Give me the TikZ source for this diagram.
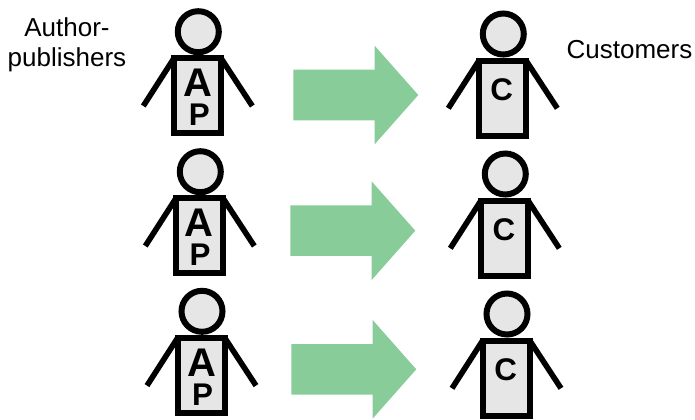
\documentclass[tikz,border=0pt]{standalone}
\usepackage{fontspec}
\setmainfont{Liberation Sans}
\usetikzlibrary{shapes.arrows}
\definecolor{FlowGreen}{HTML}{88CC99}
\definecolor{BodyGray}{HTML}{E6E6E6}
\tikzset{
  head/.style={draw=black,fill=BodyGray,circle,line width=4.5pt,inner sep=0pt,minimum size=30.75pt},
  torso/.style={draw=black,fill=BodyGray,line width=4.5pt,inner sep=0pt,minimum width=35.25pt,minimum height=56.25pt},
  limb/.style={black,line width=4.2pt},
  flow/.style={single arrow,fill=FlowGreen,anchor=tail,inner sep=0pt,text height=18.75pt,text depth=18.75pt,
    minimum height=93.75pt,single arrow head extend=18pt,single arrow head indent=0pt,single arrow tip angle=97},
  bigletter/.style={font=\fontsize{30}{30}\selectfont\bfseries,anchor=base,inner sep=0pt},
  smallletter/.style={font=\fontsize{23.5}{23.5}\selectfont\bfseries,anchor=base,inner sep=0pt},
  caption/.style={font=\fontsize{19.5}{23}\selectfont,anchor=base,inner sep=0pt},
  person/.pic={
    \coordinate (-leftshoulder) at (-24.3,26.5);
    \coordinate (-rightshoulder) at (22.7,26.5);
    \coordinate (-lefthand) at (-55,74.3);
    \coordinate (-righthand) at (54,74.3);
    \draw[limb] (-leftshoulder) -- (-lefthand);
    \draw[limb] (-rightshoulder) -- (-righthand);
    \node[torso] (-body) at (-0.8,64) {};
    \node[head] (-head) at (0,0) {};
  }
}

\begin{document}
\begin{tikzpicture}[x=0.75pt,y=-0.75pt]
  \useasboundingbox (0,0) rectangle (695,419);
  \node[caption] (author) at (67,36.7) {Author-};
  \node[caption] (publishers) at (67,66) {publishers};
  \node[caption] (customers) at (629.5,58) {Customers};

  \pic (apone) at (198.3,31.7) {person};
  \pic (aptwo) at (200.3,171.7) {person};
  \pic (apthree) at (202,311.3) {person};
  \pic (cone) at (503.3,34) {person};
  \pic (ctwo) at (505.3,174) {person};
  \pic (cthree) at (507,314) {person};

  \node[bigletter] (aoneA) at (198,96.7) {A};
  \node[smallletter] (aoneP) at (199.3,125) {P};
  \node[bigletter] (atwoA) at (198.7,236.7) {A};
  \node[smallletter] (atwoP) at (200,265) {P};
  \node[bigletter] (athreeA) at (201.7,376.7) {A};
  \node[smallletter] (athreeP) at (202.5,405) {P};
  \node[smallletter] (coneC) at (501.7,100) {C};
  \node[smallletter] (ctwoC) at (504,240) {C};
  \node[smallletter] (cthreeC) at (505.8,380) {C};

  \node[flow] (flowone) at (293,95) {};
  \node[flow] (flowtwo) at (290,230.7) {};
  \node[flow] (flowthree) at (291,369.3) {};
\end{tikzpicture}
\end{document}
